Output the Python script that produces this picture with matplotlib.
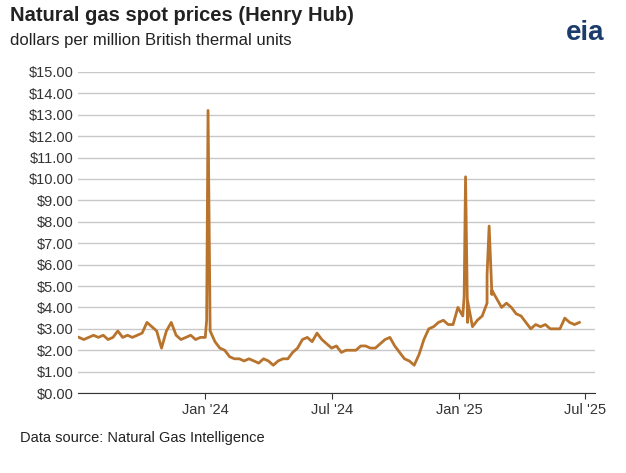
import matplotlib
matplotlib.use("Agg")
import matplotlib.pyplot as plt
import pandas as pd
import numpy as np

plt.rcParams["font.family"] = "Liberation Sans"

week_start = "2023-07-03"
weekly_values = [
    2.6, 2.5, 2.6, 2.7,
    2.6, 2.7, 2.5, 2.6, 2.9,
    2.6, 2.7, 2.6, 2.7,
    2.8, 3.3, 3.1, 2.9,
    2.1, 2.9, 3.3, 2.7,
    2.5, 2.6, 2.7, 2.5, 2.6,
    2.6, 2.9, 2.4, 2.1,
    2.0, 1.7, 1.6, 1.6,
    1.5, 1.6, 1.5, 1.4,
    1.6, 1.5, 1.3, 1.5, 1.6,
    1.6, 1.9, 2.1, 2.5,
    2.6, 2.4, 2.8, 2.5,
    2.3, 2.1, 2.2, 1.9,
    2.0, 2.0, 2.0, 2.2, 2.2,
    2.1, 2.1, 2.3, 2.5,
    2.6, 2.2, 1.9, 1.6,
    1.5, 1.3, 1.8, 2.5,
    3.0, 3.1, 3.3, 3.4, 3.2,
    3.2, 4.0, 3.6, 3.3, 3.1,
    3.4, 3.6, 4.2, 4.8,
    4.4, 4.0, 4.2, 4.0,
    3.7, 3.6, 3.3, 3.0,
    3.2, 3.1, 3.2, 3.0, 3.0,
    3.0, 3.5, 3.3, 3.2,
    3.3,
]
spike_dates = ["2024-01-03", "2024-01-05", "2024-01-08", "2025-01-08", "2025-01-10", "2025-01-13",
               "2025-02-10", "2025-02-13", "2025-02-17"]
spike_values = [3.4, 13.2, 3.0, 4.5, 10.1, 4.3, 5.5, 7.8, 4.6]

dates = pd.date_range(week_start, periods=len(weekly_values), freq="7D")
s = pd.concat([pd.Series(weekly_values, index=dates),
               pd.Series(spike_values, index=pd.to_datetime(spike_dates))]).sort_index()

fig = plt.figure(figsize=(6.26, 4.73), dpi=100)
ax = fig.add_axes([0.125, 0.169, 0.826, 0.679])
ax.plot(s.index, s.values, color="#b8732d", lw=2)
ax.set_ylim(0, 15)
ax.set_yticks(np.arange(0, 16, 1))
ax.set_yticklabels([f"${v:.2f}" for v in range(16)], fontsize=10.5, color="#333333")
ax.set_xlim(pd.Timestamp("2023-07-02"), pd.Timestamp("2025-07-16"))
ticks = pd.to_datetime(["2024-01-01", "2024-07-01", "2025-01-01", "2025-07-01"])
ax.set_xticks(ticks)
ax.set_xticklabels(["Jan '24", "Jul '24", "Jan '25", "Jul '25"], fontsize=10.5, color="#333333")
ax.grid(axis="y", color="#c8c8c8", lw=1)
ax.set_axisbelow(True)
for sp in ["top", "right", "left"]:
    ax.spines[sp].set_visible(False)
ax.spines["bottom"].set_color("#333333")
ax.tick_params(axis="y", length=0)
ax.tick_params(axis="x", length=4, color="#333333")

fig.text(0.016, 0.955, "Natural gas spot prices (Henry Hub)", fontsize=14.5, fontweight="bold", color="#222222")
fig.text(0.016, 0.905, "dollars per million British thermal units", fontsize=12, color="#222222")
fig.text(0.935, 0.915, "eia", fontsize=20, fontweight="bold", color="#1c3d6b", ha="center")
fig.text(0.032, 0.065, "Data source: Natural Gas Intelligence", fontsize=10.5, color="#222222")
fig.savefig("out.png", dpi=100)
